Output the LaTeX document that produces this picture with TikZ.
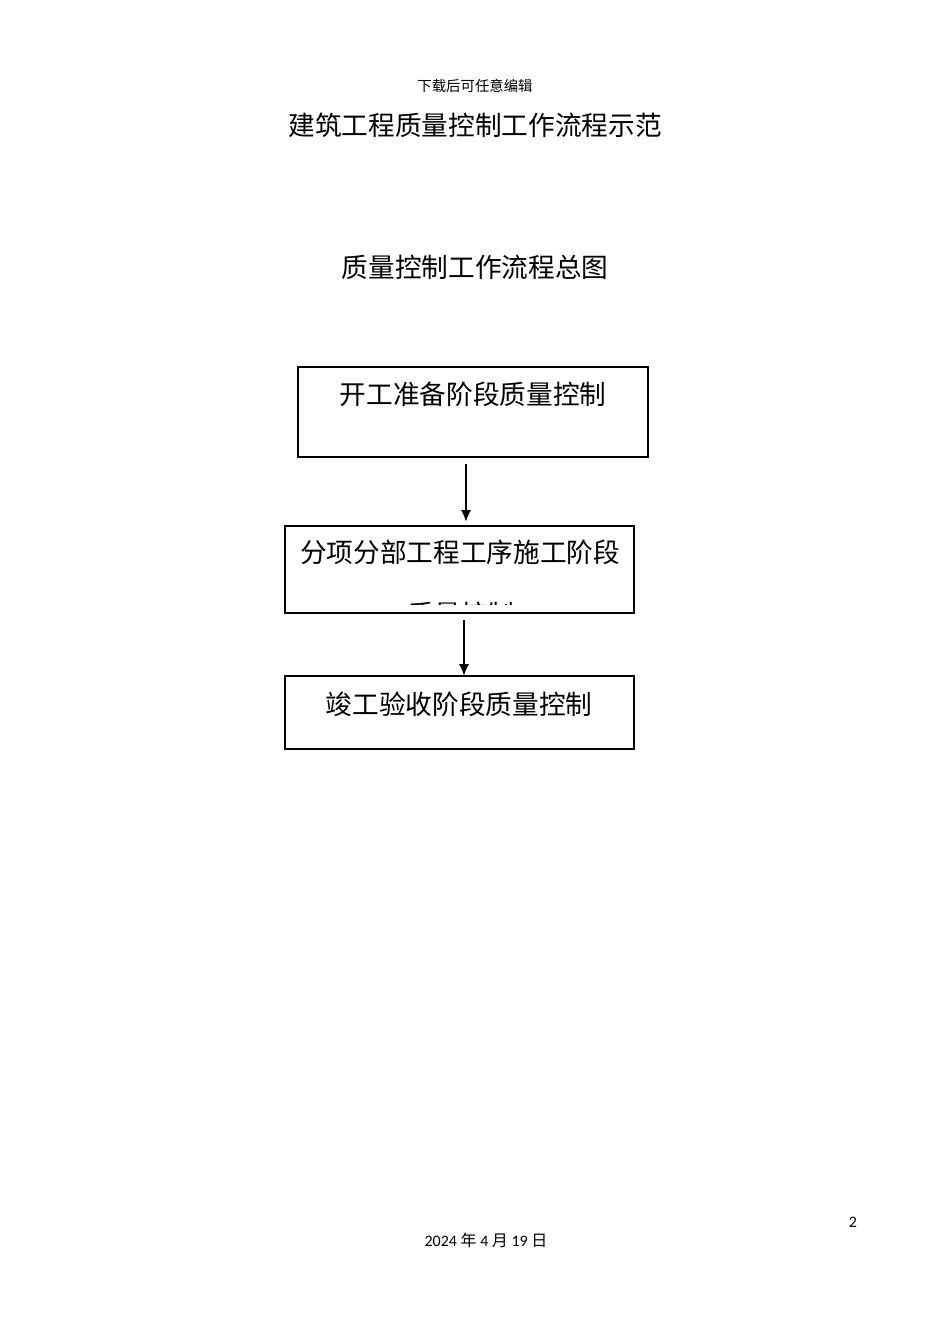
\documentclass[tikz,border=0pt]{standalone}
\usepackage{fontspec}
\setmainfont{Carlito}
\newfontfamily\cjk{Noto Sans CJK SC}
\usetikzlibrary{arrows.meta, positioning}
\tikzset{x=0.75pt, y=-0.75pt, % one pixel of the page
    stagebox/.style={ % Sets the properties for each stage
    draw,
    line width=0.8pt,
    inner sep=0pt},
    stagetext/.style={ % Text of a stage
    inner sep=0pt,
    font=\cjk\fontsize{20pt}{24pt}\selectfont},
    flow/.style={ % Arrow between two stages
    draw,
    -{Latex[length=8.5pt,width=7.5pt]},
    line width=0.8pt}}

\begin{document}
\begin{tikzpicture}
    \useasboundingbox (0,0) rectangle (950,1342);

    % Page header and titles
    \node[inner sep=0pt, font=\cjk\fontsize{10.8pt}{13pt}\selectfont] (head) at (475,86) {下载后可任意编辑};
    \node[stagetext] (title) at (475,125) {建筑工程质量控制工作流程示范};
    \node[stagetext] (subtitle) at (475,267) {质量控制工作流程总图};

    % Stages
    \node[stagebox, minimum width=262.5pt, minimum height=67.5pt] (prep) at (473,412) {};
    \node[stagetext] (preptext) at (473,394) {开工准备阶段质量控制};

    \node[stagebox, minimum width=261.75pt, minimum height=65.25pt] (work) at (459.5,569.5) {};
    \node[stagetext] (worktext) at (460,552) {分项分部工程工序施工阶段};
    \begin{scope}
        \clip (285,526) rectangle (634,604);
        \node[stagetext] (worktext2) at (461,614) {质量控制};
    \end{scope}

    \node[stagebox, minimum width=261.75pt, minimum height=54.75pt] (accept) at (459.5,712.5) {};
    \node[stagetext] (accepttext) at (459,704) {竣工验收阶段质量控制};

    % Arrows
    \coordinate (a1) at (466,0);
    \coordinate (a2) at (464,0);
    \draw[flow, shorten <=5pt, shorten >=3pt] (a1 |- prep.south) -- (a1 |- work.north);
    \draw[flow, shorten <=5pt] (a2 |- work.south) -- (a2 |- accept.north);

    % Page footer
    \node[inner sep=0pt, font=\fontsize{12pt}{14pt}\selectfont] (page) at (853,1222) {2};
    \node[inner sep=0pt, font=\fontsize{12pt}{14pt}\selectfont] (date) at (486,1240) {2024 {\cjk 年} 4 {\cjk 月} 19 {\cjk 日}};
\end{tikzpicture}
\end{document}
